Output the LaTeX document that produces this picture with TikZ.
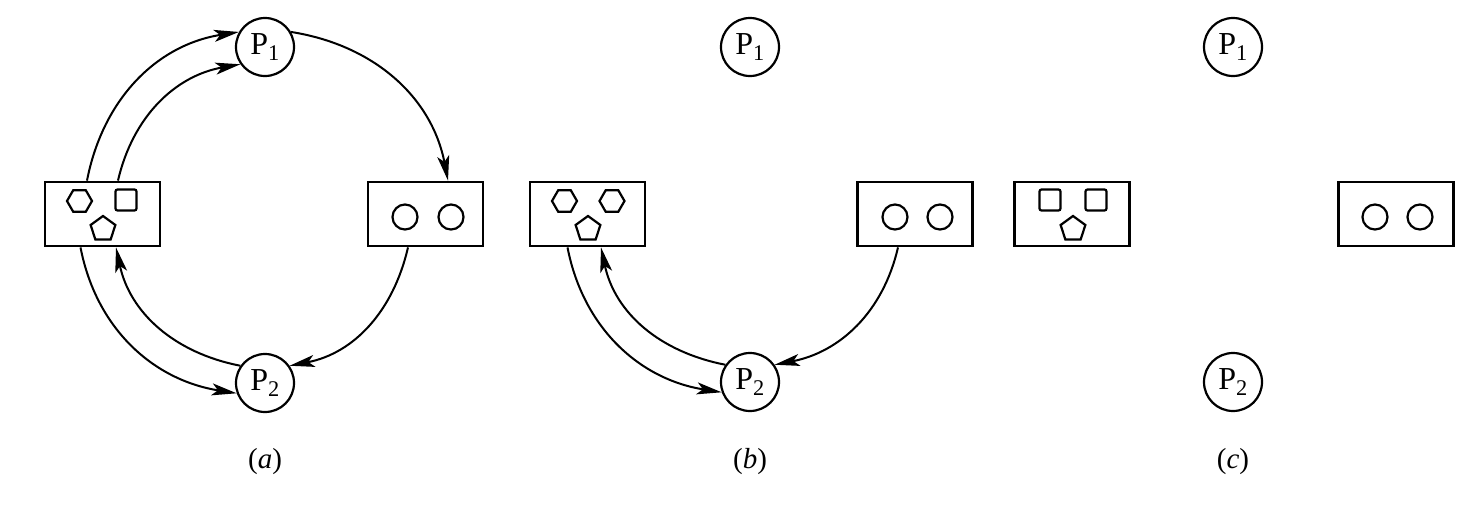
\documentclass[tikz,border=0pt]{standalone}
\usepackage{fontspec}
\setmainfont{Liberation Serif}
\usetikzlibrary{shapes.geometric,arrows.meta}

\tikzset{
    proc/.style={circle, draw, line width=2.2pt, minimum size=58pt, inner sep=0pt,
        font=\fontsize{32}{34}\selectfont},
    res/.style={rectangle, draw, line width=2.8pt, minimum width=115pt, minimum height=64pt},
    hexa/.style={regular polygon, regular polygon sides=6, draw, line width=2.2pt,
        minimum size=25pt, inner sep=0pt},
    penta/.style={regular polygon, regular polygon sides=5, draw, line width=2.2pt,
        minimum size=26pt, inner sep=0pt},
    sqr/.style={rectangle, draw, line width=2.2pt, minimum size=21pt, inner sep=0pt,
        rounded corners=2pt},
    token/.style={circle, draw, line width=2.2pt, minimum size=25pt, inner sep=0pt},
    flow/.style={line width=2pt, -{Stealth[length=25pt,width=12pt,inset=6pt]}},
    lbl/.style={font=\fontsize{29}{31}\selectfont}
}

\begin{document}
\begin{tikzpicture}[x=1pt,y=1pt]
    \useasboundingbox (0,0) rectangle (1459,-520);

    % (a)
    \begin{scope}
        \node[proc] (a1) at (265,-47) {P\textsubscript{1}};
        \node[proc] (a2) at (265,-383) {P\textsubscript{2}};
        \node[res] (al) at (102.5,-214) {};
        \node[res] (ar) at (425.5,-214) {};

        % units in the resources
        \node[hexa] (al1) at (79.5,-201) {};
        \node[sqr] (al2) at (126,-200) {};
        \node[penta] (al3) at (103,-229) {};
        \node[token] (ar1) at (405,-217) {};
        \node[token] (ar2) at (451,-217) {};

        % edges
        \draw[flow] ([xshift=-15.5pt]al.north) to[out=79,in=189] (a1.150);
        \draw[flow] ([xshift=15.5pt]al.north) to[out=77,in=190] (a1.215);
        \draw[flow] (a1.30) to[out=-9,in=101] ([xshift=22.5pt]ar.north);
        \draw[flow] ([xshift=-17.5pt]ar.south) to[out=257,in=11] (a2.35);
        \draw[flow] (a2.145) to[out=169,in=282] ([xshift=13.5pt]al.south);
        \draw[flow] ([xshift=-22pt]al.south) to[out=281,in=171] (a2.200);

        \node[lbl] (la) at (265,-462) {(\textit{a})};
    \end{scope}

    % (b)
    \begin{scope}
        \node[proc] (b1) at (750,-47) {P\textsubscript{1}};
        \node[proc] (b2) at (750,-382) {P\textsubscript{2}};
        \node[res] (bl) at (587.5,-214) {};
        \node[res] (br) at (915,-214) {};

        % units in the resources
        \node[hexa] (bl1) at (564.5,-201) {};
        \node[hexa] (bl2) at (612,-201) {};
        \node[penta] (bl3) at (588,-229) {};
        \node[token] (br1) at (895,-217) {};
        \node[token] (br2) at (940,-217) {};

        % edges
        \draw[flow] ([xshift=-17pt]br.south) to[out=257,in=11] (b2.35);
        \draw[flow] (b2.145) to[out=169,in=282] ([xshift=13.5pt]bl.south);
        \draw[flow] ([xshift=-20pt]bl.south) to[out=281,in=171] (b2.200);

        \node[lbl] (lb) at (750,-462) {(\textit{b})};
    \end{scope}

    % (c)
    \begin{scope}
        \node[proc] (c1) at (1233,-47) {P\textsubscript{1}};
        \node[proc] (c2) at (1233,-382) {P\textsubscript{2}};
        \node[res] (cl) at (1072,-214) {};
        \node[res] (cr) at (1396,-214) {};

        % units in the resources
        \node[sqr] (cl1) at (1050,-200) {};
        \node[sqr] (cl2) at (1096,-200) {};
        \node[penta] (cl3) at (1073,-229) {};
        \node[token] (cr1) at (1375,-217) {};
        \node[token] (cr2) at (1420,-217) {};

        \node[lbl] (lc) at (1233,-462) {(\textit{c})};
    \end{scope}
\end{tikzpicture}
\end{document}
